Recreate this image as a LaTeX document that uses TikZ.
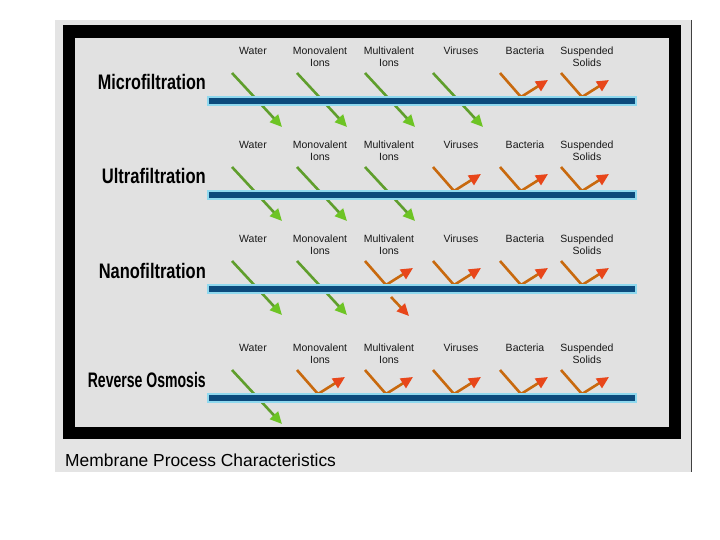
\documentclass[tikz,border=0pt]{standalone}
\usepackage{fontspec}
\setmainfont{Liberation Sans}
\usetikzlibrary{arrows.meta}
\definecolor{panel}{HTML}{E4E4E4}
\definecolor{innerbg}{HTML}{E1E1E1}
\definecolor{memb}{HTML}{0B4A7C}
\definecolor{membedge}{HTML}{8ED8EE}
\definecolor{gline}{HTML}{5F9E2C}
\definecolor{ghead}{HTML}{6DC424}
\definecolor{oline}{HTML}{C8690E}
\definecolor{ohead}{HTML}{E8461A}
\newcommand{\ttlbox}[2]{\resizebox{#1pt}{\height}{#2}}
\newcommand{\lblbox}[1]{\scalebox{0.9}[1]{#1}}
\begin{document}
\begin{tikzpicture}[x=1pt,y=-1pt,
  lbl/.style={font=\fontsize{10.5}{11.5}\selectfont, align=center, inner sep=0pt, text=black!90, anchor=north},
  ttl/.style={font=\fontsize{21}{21}\selectfont\bfseries, inner sep=0pt, anchor=base east},
  bar/.style={draw=membedge, fill=memb, line width=1.2pt, minimum width=428pt, minimum height=8pt, inner sep=0pt},
  pass/.style={draw=gline, line width=2.6pt, -{Triangle[length=12pt,width=11pt,color=ghead]}},
  refl/.style={draw=oline, line width=2.6pt, line join=miter, -{Triangle[length=12pt,width=11pt,color=ohead]}}
]
\useasboundingbox (0,0) rectangle (720,540);
\fill[white] (0,0) rectangle (720,540);
% panel and frame
\fill[panel] (55,20) rectangle (691,472);
\draw[black!75, line width=1pt] (691,20) -- (691,472);
\fill[black] (63,25) rectangle (681,439);
\fill[innerbg] (75,38) rectangle (669,427);

\foreach \r/\dy/\np/\ttxt/\tw in {1/0/4/Microfiltration/108, 2/94/3/Ultrafiltration/104, 3/188/2/Nanofiltration/107, 4/297/1/Reverse Osmosis/118}{
  \node[ttl] (t\r) at (206,90+\dy) {\ttlbox{\tw}{\ttxt}};
  \foreach \c/\s/\lx/\txt in {1/232/253/Water, 2/297/320/{Monovalent\\Ions}, 3/365/389/{Multivalent\\Ions}, 4/433/461/Viruses, 5/500/525/Bacteria, 6/561/587/{Suspended\\Solids}}{
    \node[lbl] (l\r\c) at (\lx,47+\dy) {\txt};
    \coordinate (s\r\c) at (\s,73+\dy);
    \ifnum\c>\np
      \coordinate (v\r\c) at (\s+21,97+\dy);
      \coordinate (e\r\c) at (\s+48,80+\dy);
      \draw[refl] (s\r\c) -- (v\r\c) -- (e\r\c);
    \else
      \coordinate (e\r\c) at (\s+50,127+\dy);
      \draw[pass] (s\r\c) -- (e\r\c);
    \fi
  }
  \node[bar] (m\r) at (422,101+\dy) {};
}
% partial passage of multivalent ions in nanofiltration
\coordinate (p1) at (391,297);
\coordinate (p2) at (409,316);
\draw[refl] (p1) -- (p2);

\node[anchor=base west, inner sep=0pt, font=\fontsize{17.4}{17}\selectfont] (cap) at (65,466) {Membrane Process Characteristics};
\end{tikzpicture}
\end{document}
